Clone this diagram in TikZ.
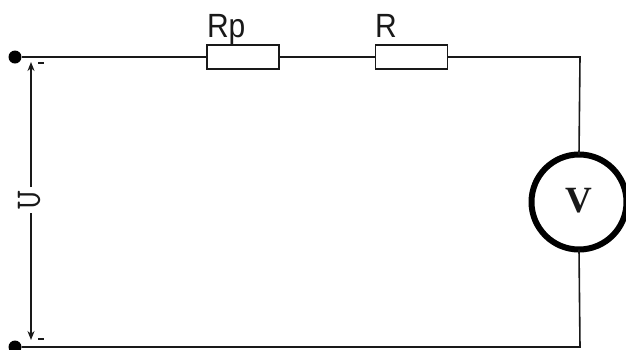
\documentclass[tikz,border=0pt]{standalone}
\usepackage{fontspec}
\setmainfont{Liberation Sans}
\newfontfamily\vfont{Liberation Serif}
\usetikzlibrary{arrows.meta}
\tikzset{
  x=1pt,y=-1pt,
  wire/.style={line width=1.6pt,black!90},
  res/.style={draw,line width=1.6pt,black!90,fill=white,minimum width=72pt,minimum height=24pt,inner sep=0pt,outer sep=0pt},
  term/.style={circle,fill=black,minimum size=13pt,inner sep=0pt,outer sep=0pt},
  meter/.style={circle,draw,line width=6pt,minimum size=95pt,inner sep=0pt,outer sep=0pt,fill=white},
  lab/.style={inner sep=0pt,outer sep=0pt,text=black!90},
  tick/.style={line width=1.6pt,black!90},
  meas/.style={line width=1.6pt,black!90,-{Stealth[length=9pt,width=7pt]}}
}
\begin{document}
\begin{tikzpicture}
\useasboundingbox (0,0) rectangle (626,349);
\fill[white] (0,0) rectangle (626,349);
\node[term] (t1) at (15,57) {};
\node[term] (t2) at (15,347) {};
\node[res] (rp) at (243,57) {};
\node[res] (r) at (411.5,57) {};
\node[meter] (v) at (579,202) {};
\node[lab] (vt) at (578.5,201) {\vfont\bfseries\fontsize{37}{37}\selectfont V};
\coordinate (c1) at (580,57);
\coordinate (c2) at (580,347);
\draw[wire] (t1) -- (rp.west);
\draw[wire] (rp.east) -- (r.west);
\draw[wire] (r.east) -- (c1) -- (v.north);
\draw[wire] (v.south) -- (c2) -- (t2);
\node[lab,anchor=base west,yscale=1.12] (rpt) at (207,37.5) {\fontsize{30}{30}\selectfont Rp};
\node[lab,anchor=base west,yscale=1.12] (rt) at (375,37.5) {\fontsize{30}{30}\selectfont R};
\node[lab,rotate=90] (u) at (29,200) {\ttfamily\fontsize{36}{36}\selectfont U};
\coordinate (u1) at (31,187);
\coordinate (u2) at (31,213);
\coordinate (at) at (31,62);
\coordinate (ab) at (31,340);
\draw[meas] (u1) -- (at);
\draw[meas] (u2) -- (ab);
\coordinate (m1a) at (38,63);
\coordinate (m1b) at (44,63);
\coordinate (m2a) at (38,339);
\coordinate (m2b) at (44,339);
\draw[tick] (m1a) -- (m1b);
\draw[tick] (m2a) -- (m2b);
\end{tikzpicture}
\end{document}
